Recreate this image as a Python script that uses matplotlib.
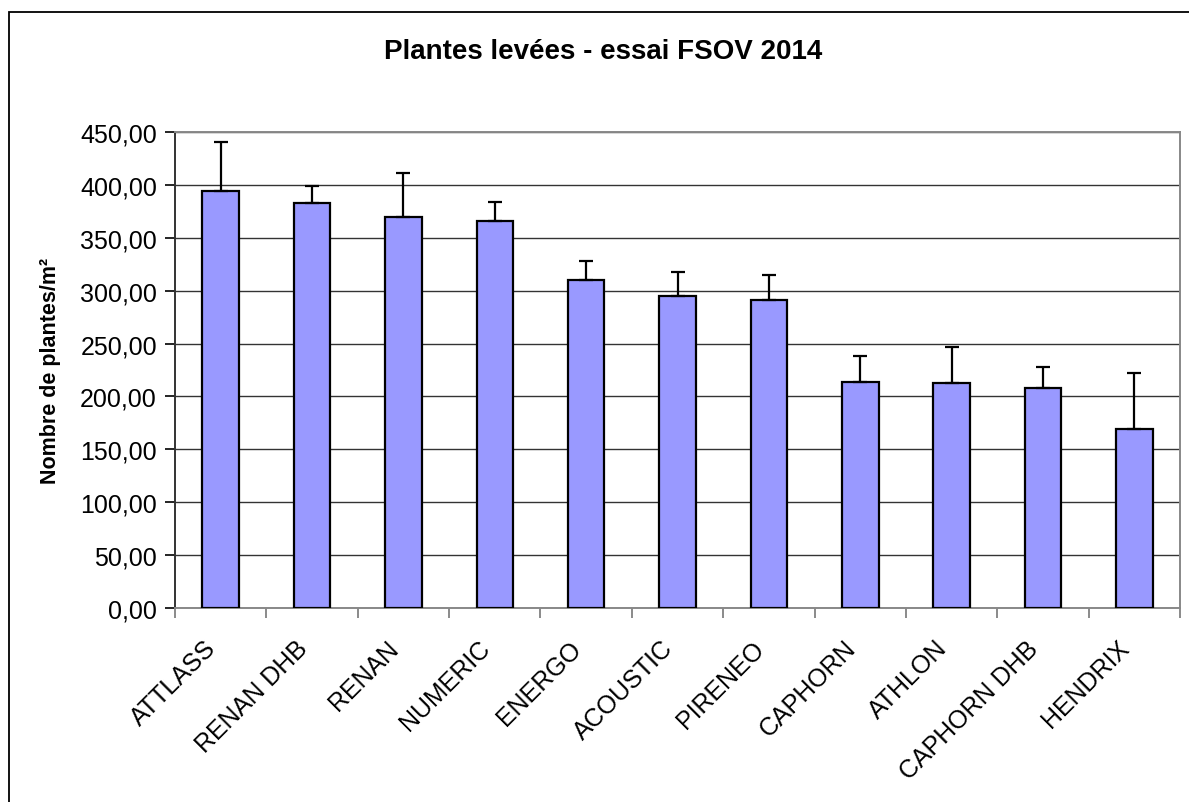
import matplotlib
matplotlib.use('Agg')
import matplotlib.pyplot as plt
from matplotlib.patches import Rectangle
from matplotlib.ticker import FixedLocator, FuncFormatter
from matplotlib.transforms import ScaledTranslation

varieties = ['ATTLASS', 'RENAN DHB', 'RENAN', 'NUMERIC', 'ENERGO', 'ACOUSTIC',
             'PIRENEO', 'CAPHORN', 'ATHLON', 'CAPHORN DHB', 'HENDRIX']
plants = [394, 382.5, 369.5, 365.5, 310, 295, 291.5, 213.5, 213, 208, 169.5]
errors = [47, 16, 42, 18.5, 18, 23, 23, 25, 34, 20, 53]
y_ticks = [0, 50, 100, 150, 200, 250, 300, 350, 400, 450]

plt.rcParams['font.family'] = ['Liberation Sans', 'DejaVu Sans']

fig = plt.figure(figsize=(11.89, 8.03), dpi=100)
ax = fig.add_axes([175 / 1189, 1 - 609 / 803, (1180 - 175) / 1189, (609 - 133) / 803])

# outer chart frame (cut off right and bottom like the original)
fig.patches.append(Rectangle((9 / 1189, -0.1), 1.2, 1 - 13 / 803 + 0.1,
                             transform=fig.transFigure, fill=False,
                             edgecolor='black', linewidth=1.3))

x = list(range(len(varieties)))
ax.bar(x, plants, width=0.4, color='#9999FF', edgecolor='black', linewidth=1.6,
       zorder=3)
ax.errorbar(x, plants, yerr=[[0] * len(errors), errors], fmt='none',
            ecolor='black', elinewidth=1.6, capsize=4.7, capthick=1.6, zorder=4)

ax.set_xlim(-0.5, len(varieties) - 0.5)
ax.set_ylim(0, 450)
ax.set_yticks(y_ticks)
ax.yaxis.set_major_formatter(FuncFormatter(lambda v, p: f'{v:.2f}'.replace('.', ',')))
ax.yaxis.grid(True, color='#333333', linewidth=1.0, zorder=0)

ax.set_xticks(x)
ax.set_xticklabels(varieties, rotation=45, ha='right', rotation_mode='anchor',
                   fontsize=18)
ax.xaxis.set_minor_locator(FixedLocator([i - 0.5 for i in range(len(varieties) + 1)]))
ax.tick_params(axis='x', which='major', length=0, pad=20)
ax.tick_params(axis='x', which='minor', length=7, width=1.2, color='#777777')
ax.tick_params(axis='y', length=7, width=1.2, labelsize=18, pad=6)

# nudge the slanted labels to the left, like the original
shift = ScaledTranslation(-17 / 100, 0, fig.dpi_scale_trans)
for lab in ax.get_xticklabels():
    lab.set_transform(lab.get_transform() + shift)

for side in ['top', 'right', 'bottom']:
    ax.spines[side].set_color('#888888')
    ax.spines[side].set_linewidth(1.4)
ax.spines['left'].set_color('#333333')
ax.spines['left'].set_linewidth(1.4)

ax.set_ylabel('Nombre de plantes/m²', fontsize=15.5, fontweight='bold', labelpad=14)
fig.text(603 / 1189, 1 - 52 / 803, 'Plantes levées - essai FSOV 2014',
         fontsize=20, fontweight='bold', ha='center', va='center')

plt.savefig('out.png', dpi=100)
